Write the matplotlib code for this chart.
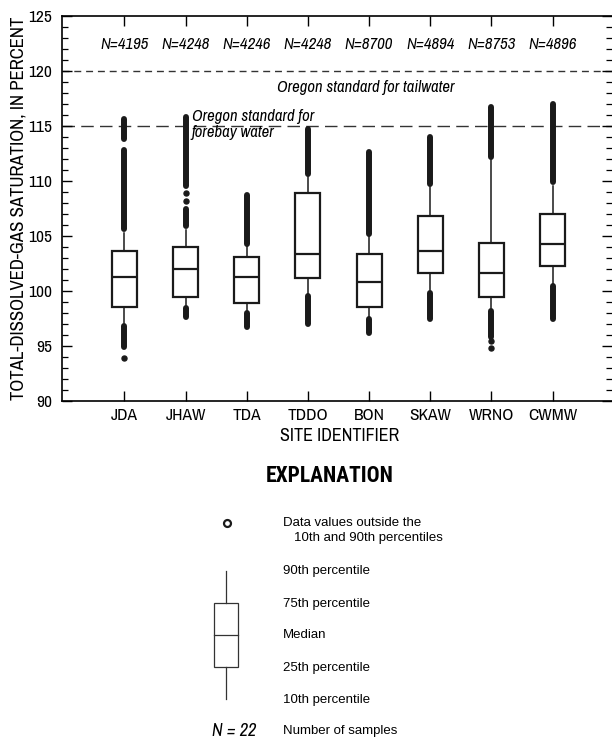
import matplotlib
matplotlib.use('Agg')
import matplotlib.pyplot as plt

plt.rcParams['font.family'] = ['Archivo Narrow', 'Roboto Condensed', 'DejaVu Sans']

sites = ['JDA', 'JHAW', 'TDA', 'TDDO', 'BON', 'SKAW', 'WRNO', 'CWMW']
n_samples = [4195, 4248, 4246, 4248, 8700, 4894, 8753, 4896]
p10 = [97.1, 98.8, 98.3, 99.8, 97.7, 100.1, 98.5, 100.7]
p25 = [98.6, 99.5, 98.9, 101.2, 98.6, 101.7, 99.5, 102.3]
p50 = [101.3, 102.0, 101.3, 103.4, 100.8, 103.7, 101.7, 104.3]
p75 = [103.7, 104.0, 103.1, 108.9, 103.4, 106.8, 104.4, 107.0]
p90 = [105.3, 105.6, 104.1, 110.4, 105.0, 109.5, 111.9, 109.6]

# dense runs of values outside the 10th/90th percentiles (low, high)
outlier_runs = {
    'JDA': [(94.95, 96.85), (105.65, 112.8), (113.8, 115.6)],
    'JHAW': [(97.7, 98.5), (105.95, 107.45), (109.55, 115.8)],
    'TDA': [(96.8, 98.05), (104.3, 108.7)],
    'TDDO': [(97.05, 99.55), (110.65, 114.7)],
    'BON': [(96.2, 97.45), (105.2, 112.6)],
    'SKAW': [(97.5, 99.85), (109.75, 114.0)],
    'WRNO': [(95.85, 98.2), (112.15, 116.7)],
    'CWMW': [(97.5, 100.45), (109.9, 117.0)],
}
# single values standing apart from the runs
outlier_single = {
    'JDA': [93.95],
    'JHAW': [108.2, 108.9],
    'WRNO': [95.45, 94.85],
}

tailwater_std = 120
forebay_std = 115

fig = plt.figure(figsize=(6.12, 7.4), dpi=100)
ax = fig.add_axes([62 / 612, 1 - 401.5 / 740, 550 / 612, 385.7 / 740])

pos = list(range(1, len(sites) + 1))
stats = []
for i, s in enumerate(sites):
    stats.append({'label': s, 'med': p50[i], 'q1': p25[i], 'q3': p75[i],
                  'whislo': p10[i], 'whishi': p90[i], 'fliers': []})

ax.bxp(stats, positions=pos, widths=0.41, showcaps=False, patch_artist=True,
       boxprops=dict(facecolor='white', edgecolor='#1a1a1a', linewidth=1.6),
       medianprops=dict(color='#1a1a1a', linewidth=1.6),
       whiskerprops=dict(color='#1a1a1a', linewidth=1.1), zorder=3)

for i, s in enumerate(sites):
    for lo, hi in outlier_runs[s]:
        ax.plot([pos[i], pos[i]], [lo, hi], color='#1a1a1a', lw=4.3,
                solid_capstyle='round', zorder=2)
    for v in outlier_single.get(s, []):
        ax.plot(pos[i], v, 'o', color='#1a1a1a', ms=3.6, zorder=2)

ax.axhline(tailwater_std, color='#333333', lw=1.0, dashes=(5, 3.5), zorder=1)
ax.axhline(forebay_std, color='#333333', lw=1.0, dashes=(9, 4.5), zorder=1)

ax.text(4.95, 118.5, 'Oregon standard for tailwater', style='italic',
        fontsize=12, ha='center', va='center')
ax.text(2.1, 115.1, 'Oregon standard for\nforebay water', style='italic',
        fontsize=12, ha='left', va='center', linespacing=1.1)

for i, n in enumerate(n_samples):
    ax.text(pos[i], 122.4, 'N=%d' % n, style='italic', fontsize=12,
            ha='center', va='center')

ax.set_xlim(-0.02, 8.97)
ax.set_ylim(90, 125)
ax.set_yticks(range(90, 126, 5))
ax.set_yticks(range(90, 126), minor=True)
ax.set_xticks(pos)
ax.set_xticklabels(sites)
ax.tick_params(axis='both', which='major', direction='in', length=7.5,
               width=1.0, labelsize=12.5)
ax.tick_params(axis='y', which='major', pad=7)
ax.tick_params(axis='x', which='major', pad=5)
ax.tick_params(axis='y', which='minor', direction='in', length=4, width=0.9)
ax.tick_params(axis='y', which='both', right=True)
ax.tick_params(axis='x', top=True)
ax.spines['right'].set_visible(False)
for sp in ['left', 'top', 'bottom']:
    ax.spines[sp].set_linewidth(1.2)

ax.set_ylabel('TOTAL-DISSOLVED-GAS SATURATION, IN PERCENT', fontsize=13.5)
ax.yaxis.set_label_coords(-0.064, 0.5)
ax.set_xlabel('SITE IDENTIFIER', fontsize=13)
ax.xaxis.set_label_coords(0.505, -0.07)

# explanation, drawn in pixel coordinates of the figure
lax = fig.add_axes([0, 0, 1, 1])
lax.set_xlim(0, 612)
lax.set_ylim(740, 0)
lax.axis('off')

lax.text(330, 476, 'EXPLANATION', family=['Roboto Condensed', 'DejaVu Sans'],
         fontsize=15.5, fontweight='bold', ha='center', va='center')
lax.plot(226.5, 523, 'o', ms=5, mfc='white', mec='#1a1a1a', mew=1.6)
lfont = dict(family=['Liberation Sans', 'DejaVu Sans'], fontsize=9.5,
             va='center')
lax.text(283, 523, 'Data values outside the', **lfont)
lax.text(294, 538.5, '10th and 90th percentiles', **lfont)

lw = 0.9
lax.plot([226.3, 226.3], [571, 603], color='#333333', lw=lw)
lax.plot([226.3, 226.3], [667, 698.5], color='#333333', lw=lw)
lax.add_patch(plt.Rectangle((214, 603), 24.3, 64, fill=False,
                            edgecolor='#333333', lw=lw))
lax.plot([214, 238.3], [634.5, 634.5], color='#333333', lw=lw)

legend_labels = ['90th percentile', '75th percentile', 'Median',
                 '25th percentile', '10th percentile', 'Number of samples']
legend_y = [571, 603.5, 635, 667.5, 699.5, 731]
for lab, y in zip(legend_labels, legend_y):
    lax.text(283, y, lab, **lfont)
lax.text(256, 731, 'N = 22', style='italic', fontsize=13, ha='right',
         va='center')

fig.savefig('out.png', dpi=100)
